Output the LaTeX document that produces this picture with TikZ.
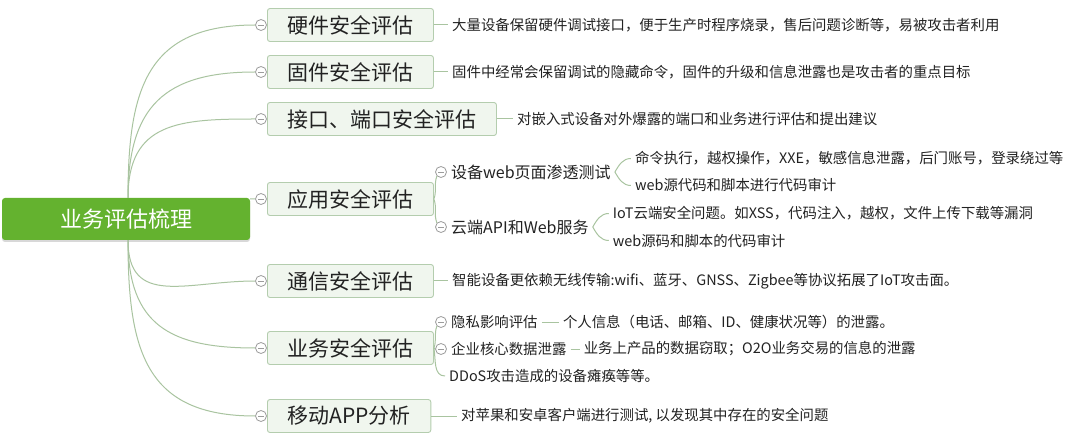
\documentclass[tikz,border=0pt]{standalone}
\usepackage{fontspec}
\setmainfont{Noto Sans CJK SC}
\usepackage{tikz}
\usetikzlibrary{shadows}
\usepackage{xcolor}
\definecolor{rootgreen}{HTML}{64B22F}
\definecolor{topicfill}{HTML}{F0F6EE}
\definecolor{topicline}{HTML}{B4CDAE}
\definecolor{linegreen}{HTML}{A9C4A0}
\definecolor{foldgray}{HTML}{9C9C9C}
\definecolor{inkgray}{HTML}{222222}

\begin{document}
\begin{tikzpicture}[x=1pt,y=-1pt,
    rootbox/.style={fill=rootgreen,rounded corners=3pt,text=white,
        font=\fontsize{22}{26}\selectfont,minimum width=248pt,minimum height=42pt,
        inner sep=0pt,drop shadow={shadow xshift=0pt,shadow yshift=-2pt,opacity=0.3}},
    topicbox/.style={draw=topicline,fill=topicfill,rounded corners=2.5pt,line width=0.9pt,
        font=\fontsize{21}{25}\selectfont,text=inkgray,minimum height=33pt,
        inner xsep=20pt,inner ysep=0pt,anchor=west},
    subtext/.style={font=\fontsize{16}{19}\selectfont,text=inkgray,
        inner xsep=4pt,inner ysep=1pt,anchor=west},
    leaftext/.style={font=\fontsize{14.4}{17}\selectfont,text=inkgray,
        inner xsep=4pt,inner ysep=1pt,anchor=west},
    foldmark/.style={circle,draw=foldgray,fill=white,minimum size=11pt,inner sep=0pt,
        line width=0.8pt,path picture={\draw[foldgray,line width=0.8pt]
        ([xshift=2.5pt]path picture bounding box.west) --
        ([xshift=-2.5pt]path picture bounding box.east);}},
    linkline/.style={draw=linegreen,line width=1pt}]

    % Canvas
    \fill[white] (0,0) rectangle (1075,435);
    \useasboundingbox (0,0) rectangle (1075,435);

    % Central topic
    \node[rootbox] (root) at (126,219) {业务评估梳理};

    % Main topics with their fold marks
    \foreach \nm/\yy/\txt in {hw/25/硬件安全评估, fw/72/固件安全评估,
        port/119/接口、端口安全评估, app/199/应用安全评估, com/281/通信安全评估,
        bus/348/业务安全评估, mob/416/移动APP分析}{
        \node[topicbox] (\nm) at (267,\yy) {\txt};
        \node[foldmark] (\nm-fold) at (261,\yy) {};
    }

    % Root connectors (upper and lower fans)
    \foreach \nm in {hw,fw,port}
        \draw[linkline] ([xshift=2pt]root.north) to[out=90,in=180,looseness=1.3] (\nm-fold.west);
    \draw[linkline] ([yshift=-1pt]root.north east) -- (app-fold.west);
    \foreach \nm in {com,bus,mob}
        \draw[linkline] ([xshift=2pt]root.south) to[out=-90,in=180,looseness=1.3] (\nm-fold.west);

    % Single-line details
    \node[leaftext] (hw-txt) at (448,25) {大量设备保留硬件调试接口，便于生产时程序烧录，售后问题诊断等，易被攻击者利用};
    \node[leaftext] (fw-txt) at (448,72) {固件中经常会保留调试的隐藏命令，固件的升级和信息泄露也是攻击者的重点目标};
    \node[leaftext] (port-txt) at (513,119) {对嵌入式设备对外爆露的端口和业务进行评估和提出建议};
    \node[leaftext] (com-txt) at (448,281) {智能设备更依赖无线传输:wifi、蓝牙、GNSS、Zigbee等协议拓展了IoT攻击面。};
    \node[leaftext] (mob-txt) at (457,416) {对苹果和安卓客户端进行测试, 以发现其中存在的安全问题};
    \foreach \nm in {hw,fw,port,com,mob}
        \draw[linkline] (\nm) -- (\nm-txt);

    % Application security: two sub topics
    \node[foldmark] (web-fold) at (441,172) {};
    \node[subtext] (web) at (447,172) {设备web页面渗透测试};
    \node[foldmark] (cloud-fold) at (441,227) {};
    \node[subtext] (cloud) at (447,227) {云端API和Web服务};
    \draw[linkline] (app.east) to[out=70,in=-110] (web-fold.south west);
    \draw[linkline] (app.east) to[out=-70,in=110] (cloud-fold.north west);

    \node[leaftext] (web-a) at ([xshift=16pt,yshift=13.5pt]web.east) {命令执行，越权操作，XXE，敏感信息泄露，后门账号，登录绕过等};
    \node[leaftext] (web-b) at ([xshift=16pt,yshift=-13.5pt]web.east) {web源代码和脚本进行代码审计};
    \node[leaftext] (cloud-a) at ([xshift=16pt,yshift=13.5pt]cloud.east) {IoT云端安全问题。如XSS，代码注入，越权，文件上传下载等漏洞};
    \node[leaftext] (cloud-b) at ([xshift=16pt,yshift=-13.5pt]cloud.east) {web源码和脚本的代码审计};
    \draw[linkline] (web.east) to[out=60,in=180] (web-a.west);
    \draw[linkline] (web.east) to[out=-60,in=180] (web-b.west);
    \draw[linkline] (cloud.east) to[out=60,in=180] (cloud-a.west);
    \draw[linkline] (cloud.east) to[out=-60,in=180] (cloud-b.west);

    % Business security: three items
    \node[foldmark] (priv-fold) at (441,322) {};
    \node[leaftext] (priv) at (447,322) {隐私影响评估};
    \node[foldmark] (ent-fold) at (441,349) {};
    \node[leaftext] (ent) at (447,349) {企业核心数据泄露};
    \node[leaftext] (ddos) at (445,376) {DDoS攻击造成的设备瘫痪等等。};
    \draw[linkline] (bus.east) to[out=70,in=-110] (priv-fold.south west);
    \draw[linkline] (bus.east) -- (ent-fold.west);
    \draw[linkline] (bus.east) to[out=-80,in=180] (ddos.west);

    \node[leaftext] (priv-a) at ([xshift=17pt]priv.east) {个人信息（电话、邮箱、ID、健康状况等）的泄露。};
    \node[leaftext] (ent-a) at ([xshift=9pt]ent.east) {业务上产品的数据窃取；O2O业务交易的信息的泄露};
    \draw[linkline] (priv) -- (priv-a);
    \draw[linkline] (ent) -- (ent-a);
\end{tikzpicture}
\end{document}
